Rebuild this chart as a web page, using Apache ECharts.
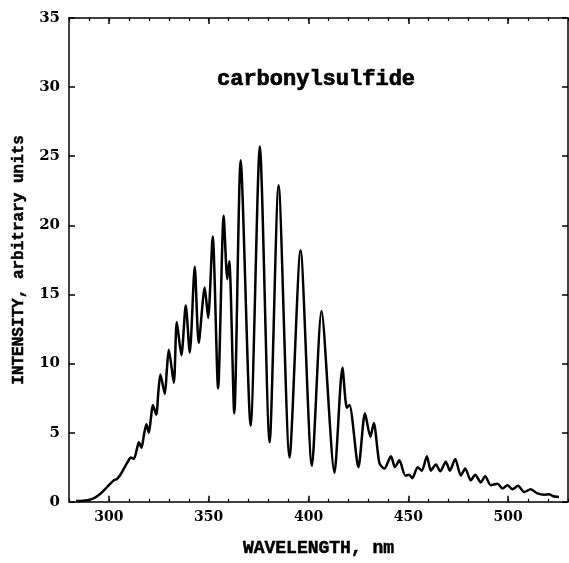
<!DOCTYPE html>
<html>
<head>
<meta charset="utf-8">
<script src="https://cdn.jsdelivr.net/npm/echarts@6/dist/echarts.min.js"></script>
<style>
  html, body { margin: 0; padding: 0; background: #fff; }
  #chart { width: 569px; height: 563px; }
</style>
</head>
<body>
<div id="chart"></div>
<script>
// wavelength (nm), peaks and valleys
const wavelength = [
  283.5, 287, 290.5, 293, 295.5, 298, 300, 302.5, 304, 305.5,
  307.5, 309.5, 311, 312.5, 314, 315, 316.3, 317.5, 318.8, 320,
  321, 322, 323.7, 324.8, 325.8, 328, 329, 330, 332.5, 334,
  336.3, 338.5, 340.5, 343, 345, 348, 349.7, 352, 354.7, 357.5,
  359.3, 360.3, 362.8, 366, 371, 375.6, 380.5, 385, 390.5, 396,
  401.7, 406.5, 413, 417, 419.2, 420.5, 425, 428.3, 431, 432.7,
  435.5, 438, 441.3, 443.3, 445.5, 448.5, 450.5, 452, 454.7, 456.8,
  459.3, 461.3, 463.8, 466, 468.8, 470.8, 473.5, 476.3, 478.5, 481.3,
  483.5, 486.3, 488.5, 491.3, 494.7, 497.2, 499.7, 502.2, 505, 508,
  511.3, 514.7, 518, 520.5, 522.5, 525.5
];
// intensity, arbitrary units
const intensity = [
  0.05, 0.08, 0.15, 0.3, 0.55, 0.9, 1.2, 1.55, 1.65, 1.9,
  2.4, 2.9, 3.2, 3.1, 3.8, 4.3, 3.9, 4.8, 5.6, 5.0,
  6.0, 7.0, 6.3, 8.0, 9.2, 7.8, 9.5, 11.0, 8.6, 13.0,
  10.6, 14.2, 10.8, 17.0, 11.5, 15.5, 13.3, 19.2, 8.2, 20.7,
  16.1, 17.4, 6.4, 24.7, 5.5, 25.7, 4.3, 22.9, 3.2, 18.2,
  2.6, 13.8, 2.1, 9.7, 6.8, 7.0, 2.5, 6.4, 4.7, 5.7,
  2.8, 2.4, 3.3, 2.5, 3.0, 1.9, 1.95, 1.7, 2.5, 2.25,
  3.3, 2.25, 2.7, 2.2, 2.9, 2.25, 3.1, 1.9, 2.4, 1.55,
  1.95, 1.4, 1.85, 1.2, 1.3, 0.95, 1.2, 0.9, 1.15, 0.7,
  0.9, 0.6, 0.5, 0.55, 0.4, 0.35
];
const xMajorTicks = [300, 350, 400, 450, 500];

const chart = echarts.init(document.getElementById("chart"));

const labelFont = { fontFamily: "DejaVu Serif", fontWeight: "bold", color: "#000" };
// slightly heavier typewriter look
const nameFont = {
  fontFamily: "Liberation Mono",
  fontWeight: "bold",
  color: "#000",
  textBorderColor: "#000",
  textBorderWidth: 0.5,
};
const frameLine = { show: true, lineStyle: { color: "#000", width: 1.5 } };

// x axes: minor ticks every 10 nm, majors drawn by a twin axis
const xBase = { type: "value", min: 280, max: 530, splitLine: { show: false } };

chart.setOption({
  animation: false,
  title: {
    text: "carbonylsulfide",
    left: 217,
    top: 68,
    padding: 0,
    textStyle: { ...nameFont, fontSize: 22, textBorderWidth: 0.7 },
  },
  grid: { left: 69, right: 1, top: 18, bottom: 53 },
  xAxis: [
    {
      ...xBase,
      position: "bottom",
      interval: 10,
      axisLine: frameLine,
      axisTick: { inside: true, length: 3, lineStyle: { color: "#000", width: 1.2 } },
      axisLabel: { show: false },
      name: "WAVELENGTH, nm",
      nameLocation: "middle",
      nameGap: 38,
      nameTextStyle: { ...nameFont, fontSize: 18 },
    },
    {
      ...xBase,
      position: "bottom",
      axisLine: { show: false },
      axisTick: { inside: true, length: 6, customValues: xMajorTicks, lineStyle: { color: "#000", width: 1.5 } },
      axisLabel: { customValues: xMajorTicks, margin: 9, fontSize: 14, ...labelFont },
    },
    {
      ...xBase,
      position: "top",
      interval: 10,
      axisLine: frameLine,
      axisTick: { inside: true, length: 3, lineStyle: { color: "#000", width: 1.2 } },
      axisLabel: { show: false },
    },
    {
      ...xBase,
      position: "top",
      axisLine: { show: false },
      axisTick: { inside: true, length: 6, customValues: xMajorTicks, lineStyle: { color: "#000", width: 1.5 } },
      axisLabel: { show: false },
    },
  ],
  yAxis: [
    {
      type: "value",
      min: 0,
      max: 35,
      interval: 5,
      position: "left",
      axisLine: frameLine,
      axisTick: { inside: true, length: 6, lineStyle: { color: "#000", width: 1.5 } },
      axisLabel: { margin: 9, fontSize: 15, ...labelFont },
      splitLine: { show: false },
      name: "INTENSITY, arbitrary units",
      nameLocation: "middle",
      nameGap: 42,
      nameTextStyle: { ...nameFont, fontSize: 16 },
    },
    {
      type: "value",
      min: 0,
      max: 35,
      interval: 5,
      position: "right",
      axisLine: frameLine,
      axisTick: { inside: true, length: 6, lineStyle: { color: "#000", width: 1.5 } },
      axisLabel: { show: false },
      splitLine: { show: false },
    },
  ],
  series: [
    {
      type: "line",
      xAxisIndex: 0,
      yAxisIndex: 0,
      data: wavelength.map((w, i) => [w, intensity[i]]),
      showSymbol: false,
      smooth: 0.25,
      lineStyle: { color: "#000", width: 2.5 },
    },
  ],
});
</script>
</body>
</html>
